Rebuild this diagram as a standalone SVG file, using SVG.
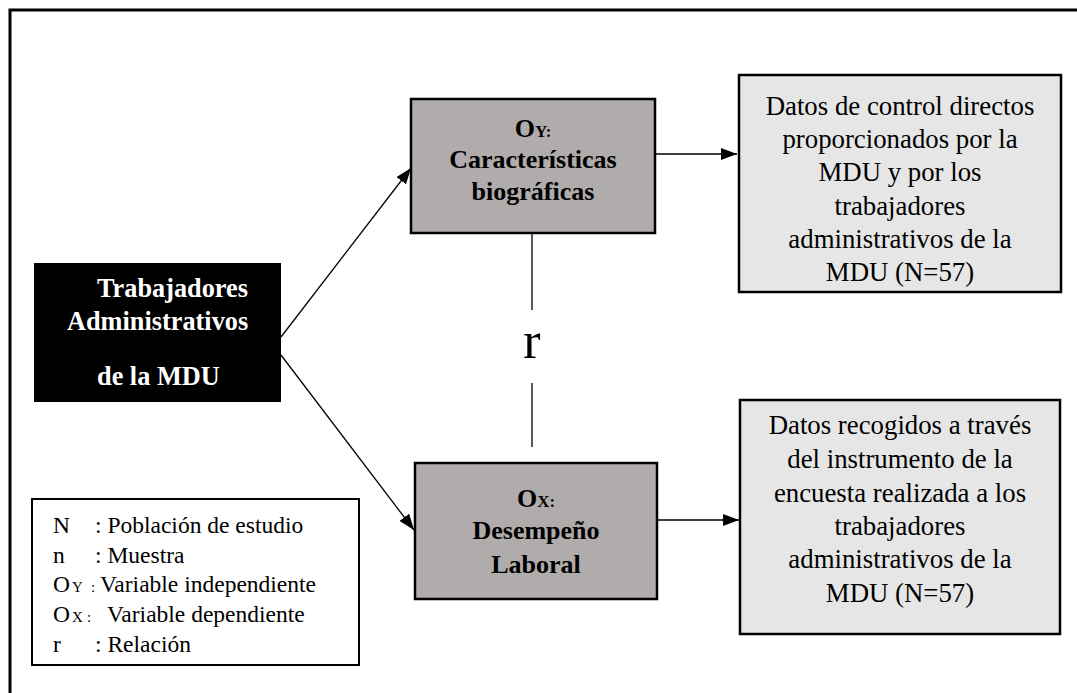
<svg xmlns="http://www.w3.org/2000/svg" width="1077" height="693" viewBox="0 0 1077 693">
<style>
.t{font-family:"Liberation Serif","Times New Roman",serif;fill:#000}
.b{font-weight:bold}
.w{fill:#fff}
.c{text-anchor:middle}
.gray{fill:#b0acab;stroke:#000;stroke-width:2.5}
.light{fill:#e6e6e6;stroke:#000;stroke-width:2.5}
.conn line{stroke:#000;stroke-width:1.3}
</style>
<defs>
<marker id="ah" viewBox="0 0 16 12" refX="16" refY="6" markerWidth="16" markerHeight="12" markerUnits="userSpaceOnUse" orient="auto">
<path d="M0,0 L16,6 L0,12 z" fill="#000"/>
</marker>
</defs>
<rect x="0" y="0" width="1077" height="693" fill="#fff"/>
<rect id="frame" x="10" y="10" width="1090" height="720" fill="none" stroke="#000" stroke-width="3"/>

<g class="conn">
<line x1="281" y1="337" x2="411" y2="168" marker-end="url(#ah)"/>
<line x1="281" y1="355" x2="414" y2="530" marker-end="url(#ah)"/>
<line x1="655" y1="154" x2="737" y2="154" marker-end="url(#ah)"/>
<line x1="657" y1="520" x2="739" y2="520" marker-end="url(#ah)"/>
<line x1="532" y1="233" x2="532" y2="310"/>
<line x1="532" y1="383" x2="532" y2="447"/>
</g>

<g id="node-trabajadores">
<rect x="34" y="263" width="247" height="139" fill="#000"/>
<text class="t b w" font-size="26.3"><tspan x="97" y="297">Trabajadores</tspan><tspan x="67" y="330">Administrativos</tspan><tspan x="97" y="385">de la MDU</tspan></text>
</g>

<g id="node-oy">
<rect class="gray" x="411" y="99" width="244" height="134"/>
<text class="t b c" x="533" y="137"><tspan font-size="26">O</tspan><tspan font-size="17">Y:</tspan></text>
<text class="t b c" font-size="26"><tspan x="533" y="168">Características</tspan><tspan x="533" y="200">biográficas</tspan></text>
</g>

<g id="node-ox">
<rect class="gray" x="415" y="463" width="242" height="136"/>
<text class="t b c" x="536" y="507"><tspan font-size="26">O</tspan><tspan font-size="17">X:</tspan></text>
<text class="t b c" font-size="26"><tspan x="536" y="539">Desempeño</tspan><tspan x="536" y="573">Laboral</tspan></text>
</g>

<g id="r-label">
<text class="t c" x="532" y="358" font-size="52">r</text>
</g>

<g id="node-datos-control">
<rect class="light" x="739" y="75" width="322" height="217"/>
<text class="t c" font-size="26.8"><tspan x="900" y="115">Datos de control directos</tspan><tspan x="900" y="148">proporcionados por la</tspan><tspan x="900" y="181">MDU y por los</tspan><tspan x="900" y="215">trabajadores</tspan><tspan x="900" y="248">administrativos de la</tspan><tspan x="900" y="281">MDU (N=57)</tspan></text>
</g>

<g id="node-datos-encuesta">
<rect class="light" x="740" y="400" width="320" height="234"/>
<text class="t c" font-size="26.8"><tspan x="900" y="434">Datos recogidos a través</tspan><tspan x="900" y="468">del instrumento de la</tspan><tspan x="900" y="502">encuesta realizada a los</tspan><tspan x="900" y="535">trabajadores</tspan><tspan x="900" y="568">administrativos de la</tspan><tspan x="900" y="602">MDU (N=57)</tspan></text>
</g>

<g id="legend">
<rect x="32" y="499" width="327" height="166" fill="#fff" stroke="#000" stroke-width="2"/>
<text class="t" font-size="23.5">
<tspan x="53" y="533">N</tspan><tspan x="95" y="533">: Población de estudio</tspan>
<tspan x="53" y="563">n</tspan><tspan x="95" y="563">: Muestra</tspan>
<tspan x="53" y="592">O</tspan><tspan x="72" y="592" font-size="15">Y</tspan><tspan x="91" y="592" font-size="15">:</tspan><tspan x="100" y="592">Variable independiente</tspan>
<tspan x="53" y="622">O</tspan><tspan x="72" y="622" font-size="15">X</tspan><tspan x="87" y="622" font-size="15">:</tspan><tspan x="107" y="622">Variable dependiente</tspan>
<tspan x="53" y="652">r</tspan><tspan x="95" y="652">: Relación</tspan>
</text>
</g>
</svg>
